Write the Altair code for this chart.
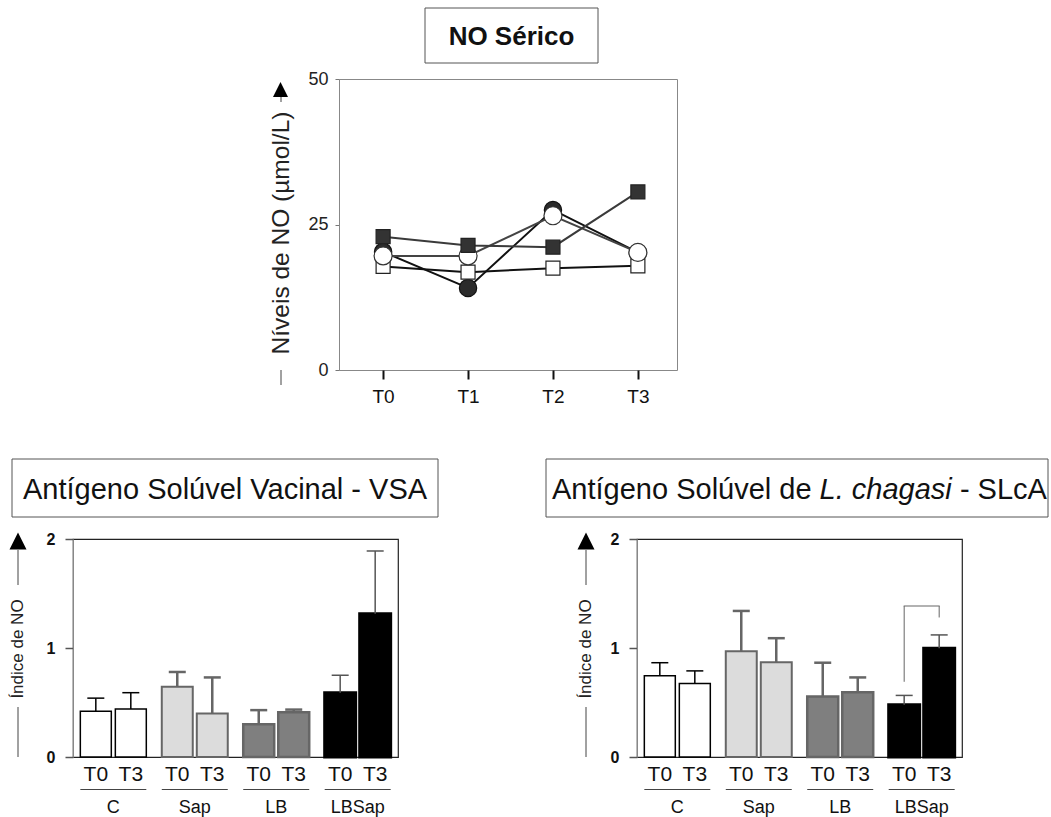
import altair as alt
import pandas as pd

# ---------------- dados ----------------
tempos_linha = ["T0", "T1", "T2", "T3"]
series_linha = ["Círculo cheio", "Quadrado aberto", "Círculo aberto", "Quadrado cheio"]
circulo_cheio = [20.3, 14.1, 27.5, 20.2]
quadrado_aberto = [17.8, 16.8, 17.5, 17.9]
circulo_aberto = [19.6, 19.6, 26.5, 20.2]
quadrado_cheio = [22.9, 21.4, 21.1, 30.6]

grupos = ["C", "Sap", "LB", "LBSap"]
tempos_barra = ["T0", "T3"]
vsa_media = [0.42, 0.44, 0.645, 0.40, 0.30, 0.41, 0.59, 1.315]
vsa_dp = [0.12, 0.15, 0.135, 0.33, 0.13, 0.025, 0.16, 0.575]
slca_media = [0.745, 0.675, 0.97, 0.87, 0.555, 0.595, 0.48, 0.997]
slca_dp = [0.12, 0.115, 0.37, 0.22, 0.31, 0.135, 0.085, 0.123]
colchete_pes = [0.69, 1.28]
colchete_topo = 1.385
ticks_barra = [0, 1, 2]

um = pd.DataFrame({"a": [0]})
TRI = "M-1,1L0,-1L1,1Z"

# ---------------- gráfico de linhas ----------------
W1, H1 = 338, 291
df_linha = pd.DataFrame({
    "tempo": tempos_linha * 4,
    "serie": sum([[s] * 4 for s in series_linha], []),
    "valor": circulo_cheio + quadrado_aberto + circulo_aberto + quadrado_cheio,
})

x_l = alt.X("tempo:N", sort=tempos_linha,
            scale=alt.Scale(type="point", padding=0.49, align=0.53),
            axis=alt.Axis(title=None, labelAngle=0, labelFontSize=19, labelColor="#111",
                          tickSize=9, tickWidth=2, tickColor="#111", domain=False,
                          labelPadding=8))
y_l = alt.Y("valor:Q", scale=alt.Scale(domain=[0, 50], nice=False),
            axis=alt.Axis(title=None, values=[0, 25, 50], grid=False, tickSize=4,
                          tickColor="#777", domainColor="#888", labelFontSize=18,
                          labelColor="#222", labelPadding=7))

estilos = {
    "Círculo cheio": dict(shape="circle", size=300, fill="#2b2b2b", stroke="#111", line="#111"),
    "Quadrado aberto": dict(shape="square", size=196, fill="white", stroke="#222", line="#111"),
    "Círculo aberto": dict(shape="circle", size=324, fill="white", stroke="#333", line="#444"),
    "Quadrado cheio": dict(shape="square", size=196, fill="#333", stroke="#222", line="#3a3a3a"),
}

base_l = alt.Chart(df_linha)
camadas = []
for s in series_linha:
    e = estilos[s]
    camadas.append(base_l.transform_filter(alt.datum.serie == s)
                   .mark_line(color=e["line"], strokeWidth=2)
                   .encode(x=x_l, y=y_l))
for s in series_linha:
    e = estilos[s]
    camadas.append(base_l.transform_filter(alt.datum.serie == s)
                   .mark_point(shape=e["shape"], size=e["size"], filled=True, fill=e["fill"],
                               stroke=e["stroke"], strokeWidth=1.2, opacity=1)
                   .encode(x=x_l, y=y_l))

dec_l = alt.Chart(um)
caixa_topo = dec_l.mark_rect(fill="white", stroke="#555", strokeWidth=1).encode(
    x=alt.value(86), x2=alt.value(259), y=alt.value(-71), y2=alt.value(-16))
texto_topo = dec_l.mark_text(text="NO Sérico", fontSize=26, fontWeight="bold",
                             align="center", baseline="alphabetic", color="#111").encode(
    x=alt.value(172.5), y=alt.value(-34))
titulo_y = dec_l.mark_text(text="Níveis de NO (µmol/L)", fontSize=24.5, angle=270,
                           align="center", baseline="middle", color="#222").encode(
    x=alt.value(-57), y=alt.value(154))
traco1 = dec_l.mark_rule(color="#444", strokeWidth=1).encode(
    x=alt.value(-58), y=alt.value(18), y2=alt.value(23))
traco2 = dec_l.mark_rule(color="#444", strokeWidth=1).encode(
    x=alt.value(-58), y=alt.value(291), y2=alt.value(306))
seta_l = dec_l.mark_point(shape=TRI, size=225, filled=True, color="black", opacity=1).encode(
    x=alt.value(-58.5), y=alt.value(10.5))

grafico_linha = alt.layer(*camadas, caixa_topo, texto_topo, titulo_y, traco1, traco2, seta_l
                          ).properties(width=W1, height=H1,
                                       view=alt.ViewBackground(stroke="#888", strokeWidth=1))

# ---------------- painéis de barras ----------------
W2, H2 = 325, 218
cor_fill = ["white", "#dcdcdc", "#7f7f7f", "black"]
cor_borda = ["black", "#666666", "#666666", "black"]
larg_borda = [1.5, 3, 3, 1]
cor_erro = ["black", "#666666", "#666666", "#555555"]
larg_erro = [1.5, 2.5, 2.5, 1.5]

escala_y = alt.Scale(domain=[0, 2], nice=False)
eixo_y = alt.Axis(title=None, values=ticks_barra, labelExpr="format(datum.value, 'd')",
                  grid=False, ticks=True, tickSize=8, tickWidth=1.5, tickColor="#555",
                  domainColor="#888", labelFontSize=16, labelFontWeight="bold",
                  labelColor="#111", labelPadding=10, labelOverlap=False)


def Y(campo):
    return alt.Y(campo, scale=escala_y, axis=eixo_y)


def painel(medias, dps, titulo, dx, colchete=False):
    linhas = []
    for gi, g in enumerate(grupos):
        for ti, t in enumerate(tempos_barra):
            k = gi * 2 + ti
            linhas.append(dict(grupo=g, tempo=t, media=medias[k], topo=medias[k] + dps[k]))
    df = pd.DataFrame(linhas)
    df_g = pd.DataFrame({"grupo": grupos})

    x = alt.X("grupo:N", sort=grupos, scale=alt.Scale(paddingInner=0.19, paddingOuter=0.09),
              axis=None)
    xo = alt.XOffset("tempo:N", sort=tempos_barra,
                     scale=alt.Scale(paddingInner=0.115, paddingOuter=0))

    base = alt.Chart(df)
    ls = []
    ls.append(base.mark_bar().encode(
        x=x, xOffset=xo, y=Y("media:Q"),
        fill=alt.Fill("grupo:N", scale=alt.Scale(domain=grupos, range=cor_fill), legend=None),
        stroke=alt.Stroke("grupo:N", scale=alt.Scale(domain=grupos, range=cor_borda), legend=None),
        strokeWidth=alt.StrokeWidth("grupo:N", scale=alt.Scale(domain=grupos, range=larg_borda),
                                    legend=None)))
    for gi, g in enumerate(grupos):
        b = base.transform_filter(alt.datum.grupo == g)
        ls.append(b.mark_rule(color=cor_erro[gi], strokeWidth=larg_erro[gi]).encode(
            x=x, xOffset=xo, y=Y("media:Q"), y2="topo:Q"))
        ls.append(b.mark_tick(color=cor_erro[gi], size=17, thickness=larg_erro[gi], opacity=1).encode(
            x=x, xOffset=xo, y=Y("topo:Q")))

    if colchete:
        df_c = pd.DataFrame({"grupo": ["LBSap", "LBSap"], "tempo": tempos_barra,
                             "pe": colchete_pes, "topo": [colchete_topo, colchete_topo]})
        ls.append(alt.Chart(df_c).mark_rule(color="#666", strokeWidth=1).encode(
            x=x, xOffset=xo, y=Y("pe:Q"), y2="topo:Q"))
        ls.append(alt.Chart(df_c.iloc[:1]).mark_tick(color="#666", size=36, thickness=1,
                                                    opacity=1).encode(x=x, y=Y("topo:Q")))

    # rótulos do eixo x
    ls.append(base.mark_text(fontSize=21, baseline="middle", color="#111").encode(
        x=x, xOffset=xo, y=alt.value(H2 + 18), text="tempo:N"))
    ls.append(alt.Chart(df_g).mark_rect(color="#444").encode(
        x=x, y=alt.value(H2 + 32), y2=alt.value(H2 + 33)))
    ls.append(alt.Chart(df_g).mark_text(fontSize=18, baseline="middle", color="#111").encode(
        x=x, y=alt.value(H2 + 51), text="grupo:N"))

    # título do eixo y
    d = alt.Chart(um)
    ls.append(d.mark_text(text="Índice de NO", fontSize=17, angle=270, align="center",
                          baseline="middle", color="#222").encode(
        x=alt.value(dx), y=alt.value(110)))
    ls.append(d.mark_rule(color="#444", strokeWidth=1).encode(
        x=alt.value(dx), y=alt.value(11), y2=alt.value(46)))
    ls.append(d.mark_rule(color="#444", strokeWidth=1).encode(
        x=alt.value(dx), y=alt.value(168), y2=alt.value(218)))
    ls.append(d.mark_point(shape=TRI, size=289, filled=True, color="black", opacity=1).encode(
        x=alt.value(dx), y=alt.value(2)))

    # caixa de título
    ls.append(d.mark_rect(fill="white", stroke="#555", strokeWidth=1).encode(
        x=alt.value(titulo["x0"]), x2=alt.value(titulo["x1"]),
        y=alt.value(-80), y2=alt.value(-22)))
    for parte in titulo["partes"]:
        ls.append(d.mark_text(text=parte["t"], fontSize=29, align="left", baseline="alphabetic",
                              fontStyle=parte.get("estilo", "normal"), color="#111").encode(
            x=alt.value(parte["x"]), y=alt.value(-40.5)))

    return alt.layer(*ls).properties(
        width=W2, height=H2, view=alt.ViewBackground(stroke="#222", strokeWidth=1.2))


titulo_vsa = dict(x0=-61, x1=365, partes=[dict(t="Antígeno Solúvel Vacinal - VSA", x=-50)])
titulo_slca = dict(x0=-91, x1=411, partes=[
    dict(t="Antígeno Solúvel de", x=-85),
    dict(t="L. chagasi", x=182.6, estilo="italic"),
    dict(t="- SLcA", x=322.9),
])

painel_vsa = painel(vsa_media, vsa_dp, titulo_vsa, -55)
painel_slca = painel(slca_media, slca_dp, titulo_slca, -51, colchete=True)

espaco = alt.Chart(um).mark_point(opacity=0).encode(
    x=alt.value(0), y=alt.value(0)).properties(
    width=246, height=H1, view=alt.ViewBackground(stroke="transparent"))

linha_topo = alt.hconcat(espaco, grafico_linha, spacing=20, bounds="flush")
linha_baixo = alt.hconcat(painel_vsa, painel_slca, spacing=239, bounds="flush")

# the nested top row counts as zero height under flush bounds, so its plot height is
# part of the spacing
chart = alt.vconcat(linha_topo, linha_baixo, spacing=H1 + 169, bounds="flush").properties(
    padding={"left": 8, "top": 7, "right": 0, "bottom": 0}
).configure(font="Liberation Sans").configure_view(stroke="#888")

chart.save("out.html", embed_options={"renderer": "svg", "actions": False})
